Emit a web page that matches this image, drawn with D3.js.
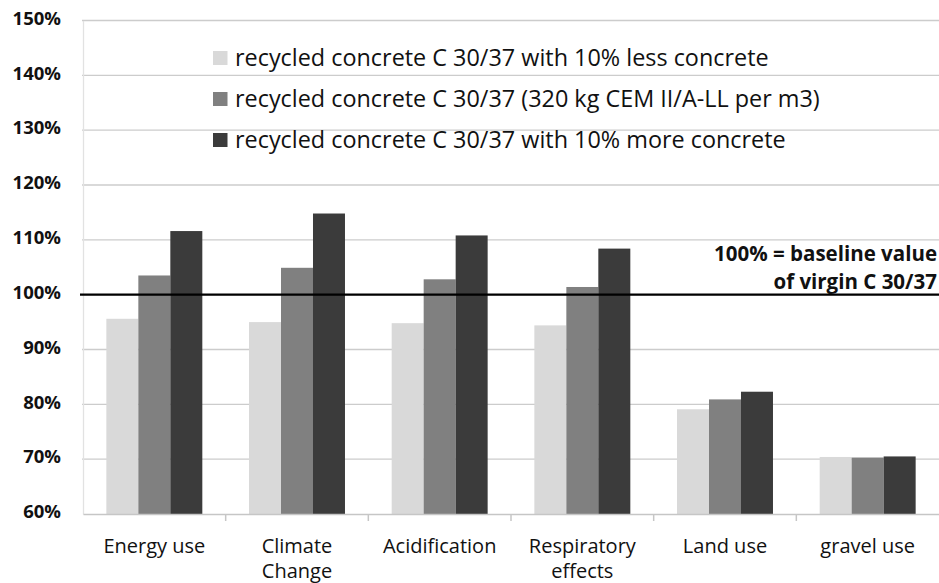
<!DOCTYPE html>
<html>
<head>
<meta charset="utf-8">
<script src="https://cdn.jsdelivr.net/npm/d3@7"></script>
<style>
  body { margin: 0; background: #fff; }
  text { font-family: 'Open Sans', 'Noto Sans', sans-serif; fill: #111; }
</style>
</head>
<body>
<div id="chart-area"></div>
<script>
'use strict';
const svg_width = 939;
const svg_height = 583;

const categories = [['Energy use'], ['Climate', 'Change'], ['Acidification'], ['Respiratory', 'effects'], ['Land use'], ['gravel use']];
const series_names = [
  'recycled concrete C 30/37 with 10% less concrete',
  'recycled concrete C 30/37 (320 kg CEM II/A-LL per m3)',
  'recycled concrete C 30/37 with 10% more concrete'
];
const less_values = [95.6, 95.0, 94.8, 94.4, 79.1, 70.4];
const base_values = [103.5, 104.9, 102.8, 101.4, 80.9, 70.3];
const more_values = [111.6, 114.8, 110.8, 108.4, 82.3, 70.5];
const y_ticks = [60, 70, 80, 90, 100, 110, 120, 130, 140, 150];
const colors = ['#d9d9d9', '#808080', '#3b3b3b'];

const margin = {left: 83, right: 0, top: 20.5, bottom: 69};

const svg = d3.select('#chart-area')
  .append('svg')
    .attr('width', svg_width)
    .attr('height', svg_height);

const x_scale = d3.scaleBand()
  .domain(d3.range(categories.length))
  .range([margin.left, svg_width - margin.right])
  .paddingInner(0)
  .paddingOuter(0);

const x_inner = d3.scaleBand()
  .domain([0, 1, 2])
  .range([0, x_scale.bandwidth()])
  .paddingOuter(0.73);

const y_scale = d3.scaleLinear()
  .domain([60, 150])
  .range([svg_height - margin.bottom, margin.top]);

// gridlines
svg.append('g')
  .selectAll('line').data(y_ticks.slice(1)).enter()
  .append('line')
    .attr('x1', margin.left - 1)
    .attr('x2', svg_width)
    .attr('y1', d => y_scale(d))
    .attr('y2', d => y_scale(d))
    .attr('stroke', '#cccccc')
    .attr('stroke-width', 1.3);

// bars
const all_values = [less_values, base_values, more_values];
all_values.forEach((vals, si) => {
  svg.append('g')
    .selectAll('rect').data(vals).enter()
    .append('rect')
      .attr('x', (d, i) => x_scale(i) + x_inner(si))
      .attr('y', d => y_scale(d))
      .attr('width', x_inner.bandwidth())
      .attr('height', d => y_scale(60) - y_scale(d))
      .attr('fill', colors[si]);
});

// y axis labels
const y_axis = d3.axisLeft(y_scale)
  .tickValues(y_ticks)
  .tickSize(0)
  .tickFormat(d => d + '%');
const yg = svg.append('g')
  .attr('transform', `translate(${margin.left},0)`)
  .call(y_axis);
yg.select('.domain').attr('stroke', '#e2e2e2').attr('stroke-width', 1.3);
yg.selectAll('.tick text')
  .attr('x', -22)
  .attr('dy', '0.2em')
  .style('font-family', "'Open Sans', sans-serif")
  .style('font-size', '18.5px')
  .style('font-weight', 'bold')
  .attr('fill', '#222');

// x axis
const x_axis = d3.axisBottom(x_scale).tickSize(0).tickFormat('');
const xg = svg.append('g')
  .attr('transform', `translate(0,${y_scale(60)})`)
  .call(x_axis);
xg.select('.domain').attr('stroke', '#c6c6c6').attr('stroke-width', 1.5);

svg.append('g')
  .selectAll('line').data(d3.range(1, categories.length)).enter()
  .append('line')
    .attr('x1', d => x_scale(d))
    .attr('x2', d => x_scale(d))
    .attr('y1', y_scale(60))
    .attr('y2', y_scale(60) + 7)
    .attr('stroke', '#c6c6c6')
    .attr('stroke-width', 1.5);

const labels = svg.append('g')
  .selectAll('text').data(categories).enter()
  .append('text')
    .attr('text-anchor', 'middle')
    .attr('x', (d, i) => x_scale(i) + x_scale.bandwidth() / 2)
    .attr('y', 553)
    .style('font-size', '20px')
    .style('font-weight', 500);
labels.selectAll('tspan').data(d => d).enter()
  .append('tspan')
    .attr('x', function() { return this.parentNode.getAttribute('x'); })
    .attr('dy', (d, i) => i === 0 ? 0 : 25)
    .text(d => d);

// baseline at 100%
svg.append('line')
  .attr('x1', margin.left - 3)
  .attr('x2', svg_width)
  .attr('y1', y_scale(100))
  .attr('y2', y_scale(100))
  .attr('stroke', '#000')
  .attr('stroke-width', 2.2);

const note = svg.append('text')
  .attr('text-anchor', 'end')
  .style('font-size', '20.5px')
  .style('font-weight', 'bold');
note.append('tspan').attr('x', 937).attr('y', 261).text('100% = baseline value');
note.append('tspan').attr('x', 937).attr('y', 289).text('of virgin C 30/37');

// legend
const legend = svg.append('g')
  .selectAll('g').data(series_names).enter()
  .append('g')
    .attr('transform', (d, i) => `translate(213,${58 + i * 41})`);
legend.append('rect')
  .attr('x', 0)
  .attr('y', -7)
  .attr('width', 14.5)
  .attr('height', 14)
  .attr('fill', (d, i) => colors[i]);
legend.append('text')
  .attr('x', 22)
  .attr('y', 8)
  .style('font-size', '23.4px')
  .text(d => d);
</script>
</body>
</html>
